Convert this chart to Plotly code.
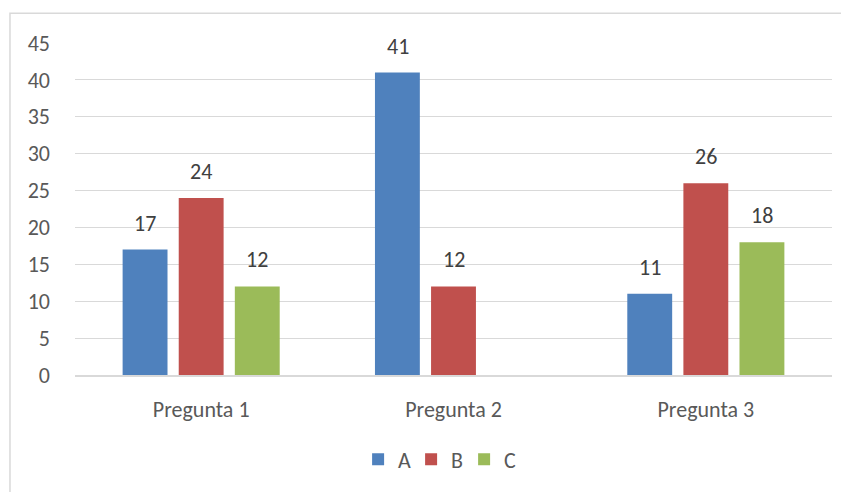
import plotly.graph_objects as go

categories = ["Pregunta 1", "Pregunta 2", "Pregunta 3"]
series_names = ["A", "B", "C"]
values_a = [17, 41, 11]
values_b = [24, 12, 26]
values_c = [12, None, 18]
colors = ["#4F81BD", "#C0504D", "#9BBB59"]
y_ticks = [0, 5, 10, 15, 20, 25, 30, 35, 40, 45]

font_family = "Carlito, Lato, Open Sans, sans-serif"
fs = 22
slot_px = 56  # horizontal distance between bars inside a group

fig = go.Figure()
annotations = []
all_series = [values_a, values_b, values_c]
for i, (name, vals, col) in enumerate(zip(series_names, all_series, colors)):
    fig.add_trace(go.Bar(
        name=name, x=categories, y=vals, marker_color=col,
        marker_line_width=0,
    ))
    for cat, v in zip(categories, vals):
        if v is None:
            continue
        annotations.append(dict(
            x=cat, y=v, xref="x", yref="y", text=str(v), showarrow=False,
            xanchor="center", yanchor="bottom", yshift=11,
            xshift=(i - 1) * slot_px,
            font=dict(size=fs, color="#404040", family=font_family),
        ))

fig.update_layout(
    width=841, height=484,
    margin=dict(l=67, r=17, t=35, b=107),
    paper_bgcolor="white", plot_bgcolor="white",
    barmode="group", bargap=0.333, bargroupgap=0.2,
    font=dict(family=font_family, size=fs, color="#595959"),
    showlegend=True,
    legend=dict(orientation="h", x=0.479, xanchor="center", y=-0.254, yanchor="middle",
                font=dict(size=fs, color="#595959"), itemwidth=30, entrywidth=8,
                traceorder="normal"),
    xaxis=dict(showgrid=False, showline=True, linecolor="#d9d9d9", linewidth=1.5,
               ticks="", ticklabelstandoff=14, tickfont=dict(size=fs, color="#595959")),
    yaxis=dict(range=[0, 45], tickvals=y_ticks, showgrid=True, gridcolor="#d9d9d9",
               gridwidth=1, zeroline=False, showline=False, ticks="",
               ticklabelstandoff=24, tickfont=dict(size=fs, color="#595959")),
    annotations=annotations,
    shapes=[dict(type="rect", xref="paper", yref="paper",
                 x0=-0.0859, x1=1.04, y0=-0.36, y1=1.0898,
                 line=dict(color="#d9d9d9", width=1.5), fillcolor="rgba(0,0,0,0)",
                 layer="below")],
)

fig.write_html("out.html")
